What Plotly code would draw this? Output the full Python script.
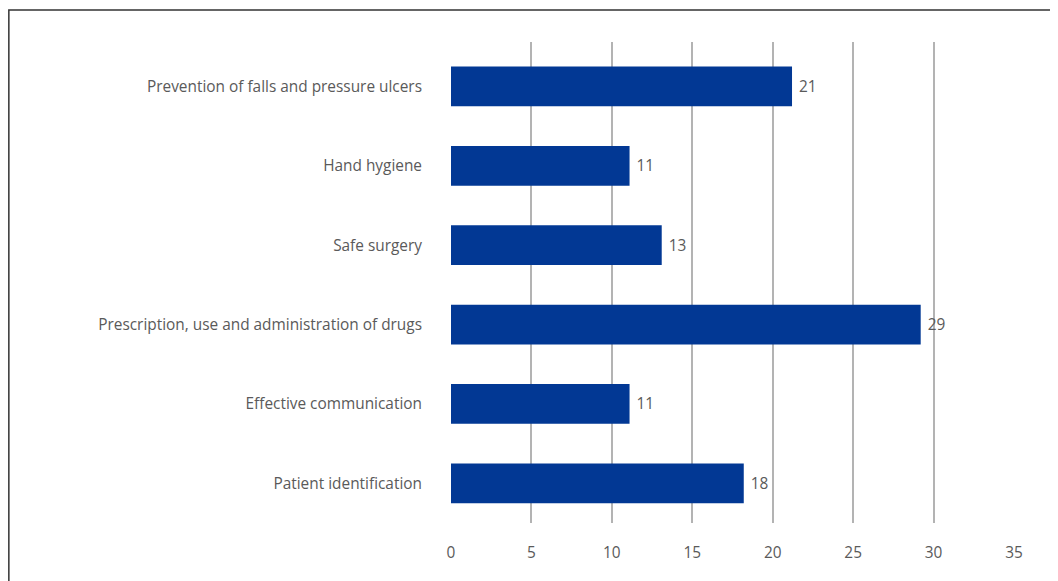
import plotly.graph_objects as go

categories = [
    "Patient identification",
    "Effective communication",
    "Prescription, use and administration of drugs",
    "Safe surgery",
    "Hand hygiene",
    "Prevention of falls and pressure ulcers",
]
values = [18.2, 11.1, 29.2, 13.1, 11.1, 21.2]
x_ticks = [0, 5, 10, 15, 20, 25, 30, 35]

# the page places the figure 8px from the top-left corner
OFF = 8
W, H = 1058 - OFF, 581 - OFF
ml, mt = 451 - OFF, 42 - OFF
pw, ph = 1014 - 451, 523 - 42
mr = W - ml - pw
mb = H - mt - ph

FONT = "Open Sans"
TXT = "#5a5a5a"

fig = go.Figure(go.Bar(
    y=categories, x=values, orientation="h",
    marker=dict(color="#023894", line=dict(width=0)),
    width=0.5,
    texttemplate="\u00a0%{x:.0f}", textposition="outside",
    textfont=dict(family=FONT, size=15.4, color=TXT),
    cliponaxis=False,
))

fig.update_layout(
    width=W, height=H,
    margin=dict(l=ml, r=mr, t=mt, b=mb),
    paper_bgcolor="white", plot_bgcolor="white",
    font=dict(family=FONT, size=15.4, color=TXT),
    showlegend=False,
    xaxis=dict(range=[0, 35], tickvals=x_ticks, showgrid=True,
               gridcolor="#b3b3b3", gridwidth=1.5, zeroline=False,
               showline=False, ticks="", ticklabelstandoff=19,
               fixedrange=True),
    yaxis=dict(range=[-0.5, 5.56], showgrid=False, zeroline=False,
               showline=False, ticks="", ticklabelstandoff=28,
               fixedrange=True),
)

# outer frame (left and top edges visible)
x0 = (8 - OFF - ml) / pw
y1 = 1 + (mt - (10 - OFF)) / ph
fig.add_shape(type="rect", xref="paper", yref="paper",
              x0=x0 + 0.0015, x1=1.5, y0=-0.5, y1=y1,
              line=dict(color="#333333", width=1.5), layer="below")

fig.write_html("out.html")
